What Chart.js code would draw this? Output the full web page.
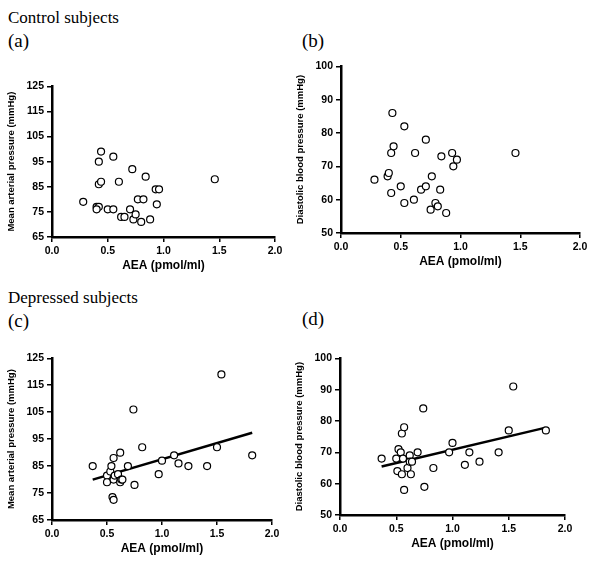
<!DOCTYPE html>
<html><head><meta charset="utf-8">
<script src="https://cdn.jsdelivr.net/npm/chart.js@4"></script>
<style>
body{margin:0;background:#fff;width:600px;height:561px;position:relative;font-family:"Liberation Serif",serif;overflow:hidden}
.t{position:absolute;font-size:17px;color:#000}
.c{position:absolute}
</style></head><body>
<div class="t" style="left:8px;top:8px">Control subjects</div>
<div class="t" style="left:8px;top:30px;font-size:19px">(a)</div>
<div class="t" style="left:302px;top:30px;font-size:19px">(b)</div>
<div class="t" style="left:8px;top:288px">Depressed subjects</div>
<div class="t" style="left:8px;top:310px;font-size:19px">(c)</div>
<div class="t" style="left:302px;top:308px;font-size:19px">(d)</div>
<div class="c" id="wa"><canvas id="ca"></canvas></div>
<div class="c" id="wb"><canvas id="cb"></canvas></div>
<div class="c" id="wc"><canvas id="cc"></canvas></div>
<div class="c" id="wd"><canvas id="cd"></canvas></div>
<script>
const aeaA = [0.28,0.40,0.42,0.40,0.42,0.44,0.42,0.44,0.55,0.50,0.55,0.60,0.62,0.65,0.70,0.72,0.73,0.75,0.77,0.80,0.82,0.84,0.88,0.93,0.96,0.94,1.46];
const mapA = [79,77,77,76,86,87,95,99,97,76,76,87,73,73,76,92,72,74,80,71,80,89,72,84,84,78,88];
const aeaB = [0.28,0.39,0.40,0.42,0.42,0.44,0.43,0.50,0.53,0.53,0.62,0.61,0.67,0.71,0.71,0.75,0.76,0.79,0.81,0.83,0.84,0.88,0.93,0.94,0.97,1.46];
const dbpB = [66,67,68,62,74,76,86,64,82,59,74,60,63,64,78,57,67,59,58,63,73,56,74,70,72,74];
const aeaC = [0.37,0.50,0.50,0.53,0.54,0.55,0.56,0.56,0.56,0.57,0.60,0.62,0.62,0.63,0.64,0.69,0.74,0.75,0.82,0.97,1.00,1.11,1.15,1.24,1.41,1.50,1.54,1.82];
const mapC = [85,81.5,79,83,85,73.5,72.5,88,80,81.5,82,79,90,80,80,85,106,78,92,82,87,89,86,85,85,92,119,89];
const fitC = [[0.37,80],[1.82,97.4]];
const aeaD = [0.37,0.50,0.51,0.52,0.54,0.55,0.56,0.55,0.57,0.57,0.60,0.62,0.62,0.63,0.64,0.69,0.74,0.75,0.83,0.97,1.00,1.11,1.15,1.24,1.41,1.50,1.54,1.83];
const dbpD = [68,68,64,71,70,76,68,63,78,58,65,69,67,63,67,70,84,59,65,70,73,66,70,67,70,77,91,77];
const fitD = [[0.37,65.5],[1.82,77.8]];

const YW = 46, XH = 38, PR = 12, PT = 6;
function place(id, left, top, w, h) {
  const el = document.getElementById(id);
  el.style.left = (left - YW) + "px";
  el.style.top = (top - PT) + "px";
  el.style.width = (w + YW + PR) + "px";
  el.style.height = (h + PT + XH) + "px";
}
place("wa", 52, 83, 223, 154);
place("wb", 341, 63, 239, 170);
place("wc", 52, 355, 220, 165);
place("wd", 340, 355, 225, 160);

const tickFont = {family: "Liberation Sans", size: 10.5, weight: "bold"};
const titleFont = {family: "Liberation Sans", size: 12, weight: "bold"};
const yTitleFont = {family: "Liberation Sans", size: 9.5, weight: "bold"};

function draw(canvas, xs, ys, fit, ymin, ymax, ytitle) {
  const datasets = [{
    type: "scatter",
    data: xs.map((x, i) => ({x: x, y: ys[i]})),
    pointRadius: 3.5, pointBorderWidth: 1.2,
    pointBorderColor: "#000", pointBackgroundColor: "#fff"
  }];
  if (fit) {
    datasets.push({
      type: "line",
      data: fit.map(p => ({x: p[0], y: p[1]})),
      borderColor: "#000", borderWidth: 2.5, pointRadius: 0, fill: false
    });
  }
  new Chart(document.getElementById(canvas), {
    type: "scatter",
    data: {datasets: datasets},
    options: {
      responsive: true, maintainAspectRatio: false, animation: false,
      layout: {padding: {top: PT, right: PR}},
      plugins: {legend: {display: false}, tooltip: {enabled: false}},
      scales: {
        x: {
          type: "linear", min: 0, max: 2,
          afterFit: s => { s.height = XH; },
          ticks: {stepSize: 0.5, color: "#000", font: tickFont, padding: 3, callback: v => v.toFixed(1)},
          grid: {drawOnChartArea: false, color: "#000", tickLength: 5, lineWidth: 1.5},
          border: {color: "#000", width: 2.5},
          title: {display: true, text: "AEA (pmol/ml)", color: "#000", font: titleFont, padding: 2}
        },
        y: {
          min: ymin, max: ymax,
          afterFit: s => { s.width = YW; },
          ticks: {stepSize: 10, color: "#000", font: tickFont, padding: 3},
          grid: {drawOnChartArea: false, color: "#000", tickLength: 5, lineWidth: 1.5},
          border: {color: "#000", width: 2.5},
          title: {display: true, text: ytitle, color: "#000", font: yTitleFont, padding: 0}
        }
      }
    }
  });
}
draw("ca", aeaA, mapA, null, 65, 125, "Mean arterial pressure (mmHg)");
draw("cb", aeaB, dbpB, null, 50, 100, "Diastolic blood pressure (mmHg)");
draw("cc", aeaC, mapC, fitC, 65, 125, "Mean arterial pressure (mmHg)");
draw("cd", aeaD, dbpD, fitD, 50, 100, "Diastolic blood pressure (mmHg)");
</script>
</body></html>
